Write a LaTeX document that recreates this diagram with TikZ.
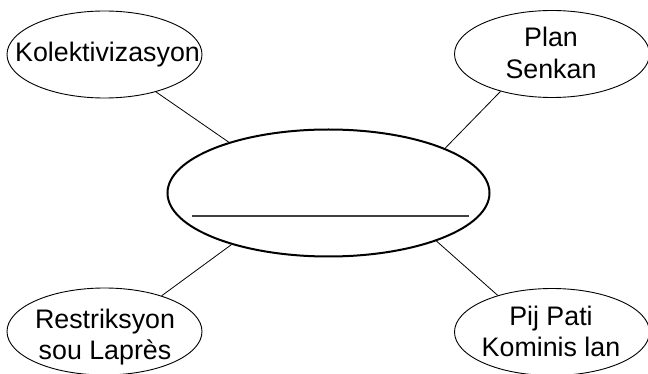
\documentclass[tikz,border=0pt]{standalone}
\usepackage{fontspec}
\setmainfont{Liberation Sans}
\usetikzlibrary{shapes.geometric}
\begin{document}
\begin{tikzpicture}[x=1pt,y=-1pt,
  smallell/.style={draw=black,line width=0.9pt,ellipse,inner sep=0pt,minimum width=195pt,minimum height=87pt},
  bigell/.style={draw=black,line width=2pt,ellipse,inner sep=0pt,minimum width=322pt,minimum height=127pt},
  lbl/.style={align=center,inner sep=0pt,font=\fontsize{26.8}{31.5}\selectfont},
  conn/.style={draw=black,line width=0.8pt}]
\useasboundingbox (0,0) rectangle (648,374);
\node[bigell] (c) at (328.5,193) {};
\node[smallell] (tl) at (104.5,54.5) {};
\node[smallell] (tr) at (552,54) {};
\node[smallell] (bl) at (104.5,331.5) {};
\node[smallell] (br) at (552,332) {};
\node[lbl] (tlt) at (107.5,55) {Kolektivizasyon};
\node[lbl] (trt) at (551,53) {Plan\\Senkan};
\node[lbl] (blt) at (105,337) {Restriksyon\\sou Laprès};
\node[lbl] (brt) at (551,331.5) {Pij Pati\\Kominis lan};
\draw[conn] (tl.-36.6) -- (c.153.5);
\draw[conn] (tr.-144.4) -- (c.21.5);
\draw[conn] (bl.32) -- (c.-152);
\draw[conn] (br.146) -- (c.-24);
\coordinate (hl) at (192,216);
\coordinate (hr) at (469,216);
\draw[line width=1.3pt,draw=black!75] (hl) -- (hr);
\end{tikzpicture}
\end{document}
